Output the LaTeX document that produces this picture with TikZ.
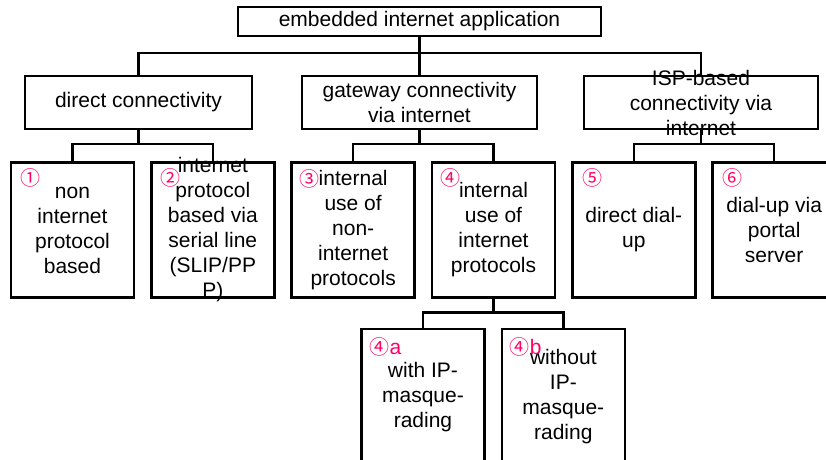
\documentclass[tikz,border=0pt]{standalone}
\usepackage{fontspec}
\setmainfont{Liberation Sans}
\newfontfamily\circfont{Noto Sans CJK JP}
\usetikzlibrary{positioning,calc}
\definecolor{tagpink}{RGB}{255,0,102}

\begin{document}
\begin{tikzpicture}[x=0.75pt, y=-0.75pt, node distance=13pt, line width=1.8pt,
  font=\fontsize{15.75}{18.75}\selectfont,
  levelbox/.style={draw, line width=1.8pt, outer sep=0pt, inner sep=0pt, align=center},
  leaf/.style={levelbox, minimum width=92.25pt, minimum height=101.25pt},
  numtag/.style={text=tagpink, inner sep=0pt, font=\circfont\fontsize{15}{17}\selectfont}]

  \useasboundingbox (0,0) rectangle (826,460);
  \clip (0,0) rectangle (826,460);

  % Root and the three kinds of connectivity
  \node (top) [levelbox, minimum width=272.25pt, minimum height=21.75pt] at (419.5,21.5) {embedded internet application};
  \node (direct) [levelbox, minimum width=170.25pt, minimum height=39.75pt] at (138.5,102.5) {direct connectivity};
  \node (gateway) [levelbox, minimum width=176.25pt, minimum height=39.75pt] at (419.5,102.5) {gateway connectivity\\via internet};
  \node (isp) [levelbox, minimum width=175.5pt, minimum height=39.75pt] at (701,102.5) {};
  \node (isptxt) [align=center] at (isp.center) {ISP-based\\connectivity via\\internet};

  % Leaf boxes, one row
  \node (b1) [leaf] at (72.5,230) {non\\internet\\protocol\\based};
  \node (b2) [leaf, right=of b1] {};
  \node (b3) [leaf, right=of b2] {internal\\use of\\non-\\internet\\protocols};
  \node (b4) [leaf, right=of b3] {internal\\use of\\internet\\protocols};
  \node (b5) [leaf, right=of b4] {direct dial-\\up};
  \node (b6) [leaf, right=of b5] {dial-up via\\portal\\server};
  \node (b2txt) [align=center] at (b2.center) {internet\\protocol\\based via\\serial line\\(SLIP/PP\\P)};

  % Sub-cases of 4
  \node (b4a) [leaf, minimum height=102pt] at (423,397) {with IP-\\masque-\\rading};
  \node (b4b) [leaf, minimum height=102pt, right=of b4a] {without\\IP-\\masque-\\rading};

  % Pink numbers in the upper left corners
  \node (t1) [numtag] at ($(b1.north west)+(20,15)$) {①};
  \node (t2) [numtag] at ($(b2.north west)+(19,15)$) {②};
  \node (t3) [numtag] at ($(b3.north west)+(18,16)$) {③};
  \node (t4) [numtag] at ($(b4.north west)+(18,15)$) {④};
  \node (t5) [numtag] at ($(b5.north west)+(20,15)$) {⑤};
  \node (t6) [numtag] at ($(b6.north west)+(20,15)$) {⑥};
  \node (t4a) [numtag] at ($(b4a.north west)+(24,18)$) {④{\normalfont\fontsize{15.75}{18.75}\selectfont a}};
  \node (t4b) [numtag] at ($(b4b.north west)+(24,18)$) {④{\normalfont\fontsize{15.75}{18.75}\selectfont b}};

  % Tree lines
  \coordinate (bus0) at (419.5,53);
  \draw (top.south) -- (gateway.north);
  \draw (direct.north) |- (bus0) -| (isp.north);

  \path (direct.south) ++(0,15) coordinate (bus1);
  \draw (direct.south) -- (bus1);
  \draw (b1.north) |- (bus1) -| (b2.north);

  \path (gateway.south) ++(0,15) coordinate (bus2);
  \draw (gateway.south) -- (bus2);
  \draw (b3.north) |- (bus2) -| (b4.north);

  \path (isp.south) ++(0,15) coordinate (bus3);
  \draw (isp.south) -- (bus3);
  \draw (b5.north) |- (bus3) -| (b6.north);

  \path (b4.south) ++(0,15) coordinate (bus4);
  \draw (b4.south) -- (bus4);
  \draw (b4a.north) |- (bus4) -| (b4b.north);

\end{tikzpicture}
\end{document}
